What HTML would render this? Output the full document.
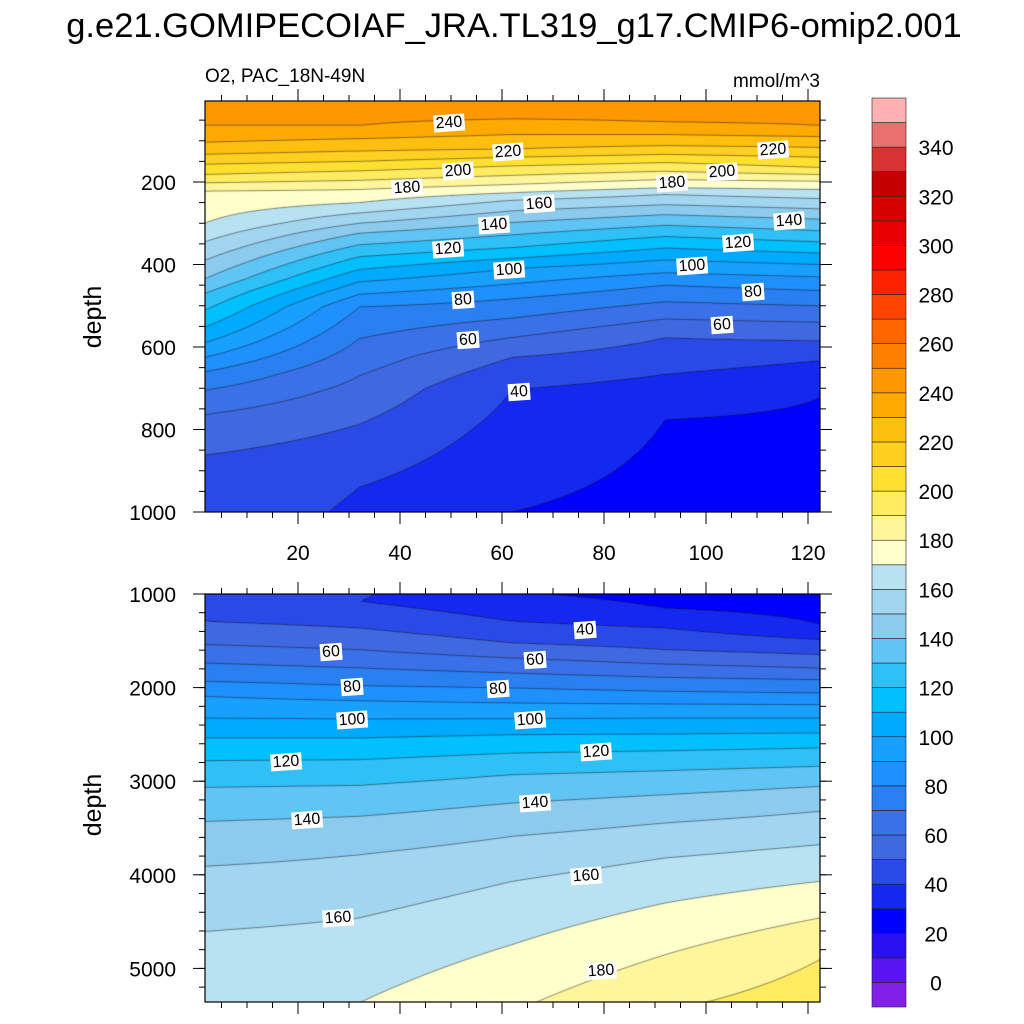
<!DOCTYPE html>
<html><head><meta charset="utf-8">
<style>
html,body{margin:0;padding:0;background:#fff;}
#root{position:relative;width:1024px;height:1024px;overflow:hidden;font-family:"Liberation Sans",sans-serif;}
canvas{position:absolute;}
svg{position:absolute;left:0;top:0;}
.cl{position:absolute;background:#fff;font-size:16px;line-height:17px;padding:0 2px;transform:translate(-50%,-50%) rotate(-4deg);color:#000;}
</style></head>
<body>
<div id="root">
<canvas id="topc" style="left:205px;top:101px" width="615" height="411"></canvas>
<canvas id="botc" style="left:205px;top:594px" width="615" height="408"></canvas>
<svg id="ax" width="1024" height="1024"></svg>
</div>
<script>
// ---- data ----
const levelColors = ['#8020e8','#5a14f4','#2a10f0','#0000ff','#1428f0','#2a4ae8','#4068e0','#3a70e8','#2a80f0','#1e90ff','#18a0ff','#00aaff','#00c0ff','#30c0f8','#60c4f4','#8ccbee','#a2d5f0','#b8e2f2','#ffffcc','#fff59a','#ffec60','#ffe030','#ffd020','#ffbf10','#ffaa00','#ff9800','#ff8000','#ff6600','#ff4400','#ff2200','#ff0000','#e80000','#d60000','#c40000','#d83232','#e87070','#ffb0b0'];
const colorbarLabels = [0,20,40,60,80,100,120,140,160,180,200,220,240,260,280,300,320,340];
const columnX = [1.7, 32, 62, 92, 122.3];
const topDepths = [
 [3,63,104,133,157,182,202,222,300,345,390,435,470,511,552,590,625,660,705,764,862,1000],
 [3,63,95,125,150,173,196,218,250,275,300,324,352,381,412,442,472,503,580,670,787,940,1000],
 [3,47,85,120,140,161,184,206,226,244,270,298,328,359,385,410,447,483,530,577,625,703,1000],
 [3,55,85,112,133,153,174,194,214,230,255,279,305,332,360,389,420,450,490,532,577,666,776,1000],
 [3,63,90,116,140,165,182,198,218,240,265,290,318,345,372,400,430,463,500,540,585,633,723,1000]];
const topValues = [
 [245,240,230,220,210,200,190,180,170,160,150,140,130,120,110,100,90,80,70,60,50,46],
 [246,240,230,220,210,200,190,180,170,160,150,140,130,120,110,100,90,80,70,60,50,40,38.5],
 [246,240,230,220,210,200,190,180,170,160,150,140,130,120,110,100,90,80,70,60,50,40,30],
 [246,240,230,220,210,200,190,180,170,160,150,140,130,120,110,100,90,80,70,60,50,40,30,27],
 [246,240,230,220,210,200,190,180,170,160,150,140,130,120,110,100,90,80,70,60,50,40,30,22]];
const botDepths = [
 [1000,1292,1541,1737,1933,2093,2325,2538,2780,3065,3429,3909,4604,5400],
 [1000,1078,1363,1595,1790,1979,2140,2335,2538,2770,3044,3375,3785,4461,5369,5400],
 [1000,1292,1523,1684,1844,2004,2164,2332,2503,2699,2930,3233,3589,4070,4746,5400],
 [1000,1150,1363,1595,1748,1890,2040,2175,2325,2496,2674,2887,3144,3446,3820,4301,4853,5400],
 [1000,1320,1488,1648,1791,1915,2058,2182,2325,2485,2645,2841,3055,3322,3678,4070,4461,4906,5400]];
const botValues = [
 [47,50,60,70,80,90,100,110,120,130,140,150,160,165],
 [41,40,50,60,70,80,90,100,110,120,130,140,150,160,170,170.3],
 [31,40,50,60,70,80,90,100,110,120,130,140,150,160,170,179],
 [27,30,40,50,60,70,80,90,100,110,120,130,140,150,160,170,180,189],
 [24,30,40,50,60,70,80,90,100,110,120,130,140,150,160,170,180,190,195]];
const topLabels = [[449,123,'240'],[508,152,'220'],[458,171,'200'],[407,188,'180'],[539,204,'160'],[494,225,'140'],[448,249,'120'],[509,270,'100'],[463,300,'80'],[468,340,'60'],[519,392,'40'],[773,150,'220'],[722,172,'200'],[672,183,'180'],[789,221,'140'],[738,243,'120'],[692,266,'100'],[753,292,'80'],[722,325,'60']];
const botLabels = [[585,630,'40'],[331,652,'60'],[535,660,'60'],[352,687,'80'],[498,689,'80'],[352,720,'100'],[530,720,'100'],[286,762,'120'],[596,752,'120'],[307,820,'140'],[535,803,'140'],[338,918,'160'],[586,876,'160'],[601,971,'180']];

// ---- scales ----
const xPx = v => 196 + v*5.1;
const topY = d => 182 + (d-200)*0.4125;
const botY = d => 594 + (d-1000)*0.0936;

function prof(ds, vs, d){
  if(d<=ds[0]) return vs[0];
  for(let i=1;i<ds.length;i++){ if(d<=ds[i]){const t=(d-ds[i-1])/(ds[i]-ds[i-1]);return vs[i-1]+t*(vs[i]-vs[i-1]);} }
  return vs[vs.length-1];
}
function field(D,V,x,d){
  if(x<=columnX[0]) return prof(D[0],V[0],d);
  for(let i=1;i<columnX.length;i++){ if(x<=columnX[i]){const t=(x-columnX[i-1])/(columnX[i]-columnX[i-1]);return prof(D[i-1],V[i-1],d)*(1-t)+prof(D[i],V[i],d)*t;} }
  return prof(D[D.length-1],V[V.length-1],d);
}
function hex(c){return [parseInt(c.substr(1,2),16),parseInt(c.substr(3,2),16),parseInt(c.substr(5,2),16)];}
const rgb = levelColors.map(hex);
function colIdx(v){let k=Math.floor(v/10)+1; return Math.max(0,Math.min(rgb.length-1,k));}

function drawPanel(id,left,top,yInv,D,V){
  const cv=document.getElementById(id), ctx=cv.getContext('2d');
  const W=cv.width,H=cv.height, img=ctx.createImageData(W,H);
  const val=(px,py)=>field(D,V,(left+px-196)/5.1,yInv(top+py));
  for(let py=0;py<H;py++)for(let px=0;px<W;px++){
    const c=rgb[colIdx(val(px+0.5,py+0.5))], o=(py*W+px)*4;
    img.data[o]=c[0];img.data[o+1]=c[1];img.data[o+2]=c[2];img.data[o+3]=255;
  }
  ctx.putImageData(img,0,0);
  const s=2, nx=Math.ceil(W/s)+1, ny=Math.ceil(H/s)+1, g=[];
  for(let j=0;j<ny;j++){g.push([]);for(let i=0;i<nx;i++)g[j].push(val(i*s,j*s));}
  ctx.strokeStyle='rgba(20,20,20,0.8)';ctx.lineWidth=0.6;ctx.beginPath();
  for(let L=0;L<=350;L+=10){
    for(let j=0;j<ny-1;j++)for(let i=0;i<nx-1;i++){
      const a=g[j][i],b=g[j][i+1],c=g[j+1][i+1],d=g[j+1][i];
      const pts=[];
      const e=(v1,v2,x1,y1,x2,y2)=>{if((v1-L)*(v2-L)<0){const t=(L-v1)/(v2-v1);pts.push([x1+t*(x2-x1),y1+t*(y2-y1)]);}};
      const X=i*s,Y=j*s;
      e(a,b,X,Y,X+s,Y);e(b,c,X+s,Y,X+s,Y+s);e(c,d,X+s,Y+s,X,Y+s);e(d,a,X,Y+s,X,Y);
      for(let k=0;k+1<pts.length;k+=2){ctx.moveTo(pts[k][0],pts[k][1]);ctx.lineTo(pts[k+1][0],pts[k+1][1]);}
    }
  }
  ctx.stroke();
}
drawPanel('topc',205,101,y=>200+(y-182)/0.4125,topDepths,topValues);
drawPanel('botc',205,594,y=>1000+(y-594)/0.0936,botDepths,botValues);

// ---- axes ----
const NS='http://www.w3.org/2000/svg', svg=document.getElementById('ax');
function el(tag,attrs,parent){const e=document.createElementNS(NS,tag);for(const k in attrs)e.setAttribute(k,attrs[k]);(parent||svg).appendChild(e);return e;}
function txt(x,y,s,size,anchor,extra){const t=el('text',Object.assign({x:x,y:y,'font-size':size,'text-anchor':anchor||'start','font-family':'Liberation Sans, sans-serif',fill:'#000'},extra||{}));t.textContent=s;return t;}

const title=txt(514,37,'g.e21.GOMIPECOIAF_JRA.TL319_g17.CMIP6-omip2.001',34.5,'middle');


const st=txt(205,82,'O2, PAC_18N-49N',19,'start');


const un=txt(820,87,'mmol/m^3',19,'end');



function panelAxes(name,top,bot,yfn,majors,minors,xLabels){
  const g=el('g',{});
  
  
  el('rect',{x:205,y:top,width:615,height:bot-top,fill:'none',stroke:'#000','stroke-width':1.2},g);
  minors.forEach(d=>{const y=yfn(d);if(y<top-0.5||y>bot+0.5)return;
    el('line',{x1:199,x2:205,y1:y,y2:y,stroke:'#000'},g);el('line',{x1:820,x2:826,y1:y,y2:y,stroke:'#000'},g);});
  majors.forEach(d=>{const y=yfn(d);
    el('line',{x1:193,x2:205,y1:y,y2:y,stroke:'#000'},g);el('line',{x1:820,x2:832,y1:y,y2:y,stroke:'#000'},g);
    const t=txt(176,y+8,String(d),21,'end',{});
    
    
    g.appendChild(t);});
  for(let v=5;v<=120;v+=5){const x=xPx(v),maj=v%20===0,L=maj?12:6;
    el('line',{x1:x,x2:x,y1:top-L,y2:top,stroke:'#000'},g);el('line',{x1:x,x2:x,y1:bot,y2:bot+L,stroke:'#000'},g);
    if(maj&&xLabels){const t=txt(x,560,String(v),21,'middle');
      
      
      g.appendChild(t);}
  }
}
const topMin=[],botMin=[];
for(let d=50;d<=1000;d+=50)topMin.push(d);
for(let d=1200;d<=5400;d+=200)botMin.push(d);
panelAxes('upper-panel',101,512,topY,[200,400,600,800,1000],topMin,true);
panelAxes('lower-panel',594,1002,botY,[1000,2000,3000,4000,5000],botMin,false);

const yt1=txt(0,0,'depth',25,'middle',{transform:'translate(101,317) rotate(-90)'});


const yt2=txt(0,0,'depth',25,'middle',{transform:'translate(101,805) rotate(-90)'});



// colorbar
const cbTop=98, cbBot=1007, cbH=(cbBot-cbTop)/levelColors.length;
levelColors.forEach((c,i)=>{
  const r=el('rect',{x:872,y:cbBot-(i+1)*cbH,width:34,height:cbH,fill:c,stroke:'#222','stroke-width':0.6});
  
  
});
colorbarLabels.forEach(v=>{
  const y=cbBot-(v/10+1)*cbH;
  const t=txt(936,y+8,String(v),21,'middle');
  
  
});

// contour labels
const root=document.getElementById('root');
topLabels.concat(botLabels).forEach(l=>{
  const d=document.createElement('div');d.className='cl';
  d.style.left=l[0]+'px';d.style.top=l[1]+'px';d.textContent=l[2];
  
  
  root.appendChild(d);
});
</script>
</body></html>
